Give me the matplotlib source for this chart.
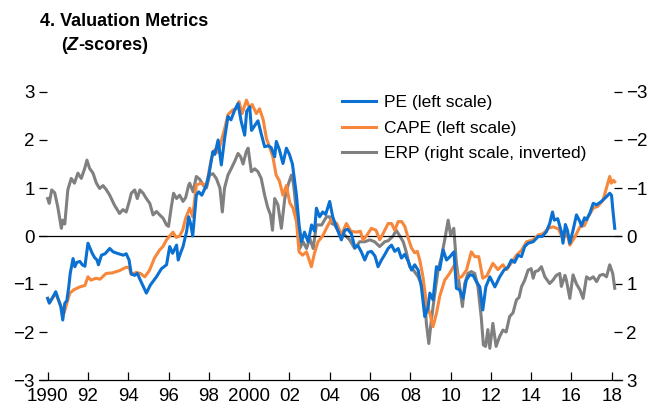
import matplotlib
matplotlib.use("Agg")
import matplotlib.pyplot as plt

plt.rcParams['font.family'] = ['Liberation Sans Narrow', 'Liberation Sans', 'DejaVu Sans']

# PE, z-score (left scale)
pe_t = [1990.00, 1990.08, 1990.25, 1990.40, 1990.55, 1990.65, 1990.75, 1990.85, 1990.95, 1991.05,
        1991.12, 1991.26, 1991.35, 1991.45, 1991.60, 1991.72, 1991.85, 1992.00, 1992.10, 1992.20,
        1992.33, 1992.45, 1992.52, 1992.67, 1992.85, 1993.08, 1993.25, 1993.45, 1993.60, 1993.75,
        1993.90, 1994.04, 1994.15, 1994.32, 1994.45, 1994.60, 1994.90, 1995.10, 1995.40, 1995.65,
        1995.90, 1996.06, 1996.20, 1996.40, 1996.48, 1996.60, 1996.72, 1996.90, 1997.00, 1997.10,
        1997.20, 1997.38, 1997.50, 1997.65, 1997.88, 1998.00, 1998.20, 1998.30, 1998.46, 1998.62,
        1998.78, 1998.95, 1999.10, 1999.28, 1999.45, 1999.60, 1999.78, 1999.88, 2000.03, 2000.12,
        2000.28, 2000.44, 2000.60, 2000.77, 2000.95, 2001.10, 2001.27, 2001.35, 2001.50, 2001.68,
        2001.85, 2002.00, 2002.15, 2002.35, 2002.48, 2002.60, 2002.75, 2002.93, 2003.10, 2003.25,
        2003.34, 2003.50, 2003.65, 2003.80, 2004.00, 2004.15, 2004.33, 2004.58, 2004.75, 2004.90,
        2005.08, 2005.25, 2005.40, 2005.57, 2005.74, 2005.90, 2006.07, 2006.25, 2006.40, 2006.57,
        2006.73, 2006.90, 2007.07, 2007.23, 2007.40, 2007.56, 2007.73, 2007.90, 2008.06, 2008.22,
        2008.39, 2008.55, 2008.72, 2008.88, 2008.97, 2009.13, 2009.30, 2009.46, 2009.63, 2009.80,
        2009.97, 2010.17, 2010.29, 2010.45, 2010.62, 2010.78, 2010.95, 2011.12, 2011.28, 2011.45,
        2011.60, 2011.75, 2011.95, 2012.20, 2012.44, 2012.65, 2012.85, 2013.02, 2013.18, 2013.35,
        2013.52, 2013.68, 2013.85, 2014.10, 2014.35, 2014.55, 2014.76, 2014.92, 2015.06, 2015.15,
        2015.32, 2015.50, 2015.58, 2015.70, 2015.80, 2015.92, 2016.08, 2016.25, 2016.42, 2016.50,
        2016.65, 2016.75, 2016.91, 2017.08, 2017.25, 2017.49, 2017.74, 2017.90, 2017.99, 2018.05,
        2018.15]
pe_v = [-1.30, -1.40, -1.28, -1.16, -1.35, -1.47, -1.75, -1.40, -1.35, -1.05,
        -0.78, -0.47, -0.64, -0.55, -0.53, -0.60, -0.63, -0.15, -0.25, -0.35,
        -0.45, -0.50, -0.60, -0.40, -0.37, -0.26, -0.33, -0.36, -0.38, -0.40,
        -0.37, -0.50, -0.79, -0.82, -0.78, -0.92, -1.19, -1.02, -0.85, -0.68,
        -0.60, -0.22, -0.36, -0.19, -0.50, -0.35, -0.22, 0.10, 0.40, 0.25,
        0.00, 0.85, 0.92, 0.85, 1.06, 1.27, 1.76, 1.70, 2.00, 1.48,
        2.02, 2.49, 2.42, 2.62, 2.76, 2.40, 2.10, 2.60, 2.69, 2.20,
        2.30, 2.40, 2.13, 1.86, 1.88, 1.84, 1.65, 1.97, 1.80, 1.51,
        1.83, 1.70, 1.50, 0.85, 0.23, -0.12, 0.08, -0.12, 0.23, 0.10,
        0.58, 0.40, 0.50, 0.45, 0.72, 0.40, 0.19, -0.08, 0.12, 0.14,
        0.04, -0.24, -0.20, -0.33, -0.50, -0.34, -0.32, -0.42, -0.64, -0.50,
        -0.39, -0.26, -0.19, -0.32, -0.26, -0.46, -0.38, -0.53, -0.71, -0.60,
        -0.71, -1.06, -1.68, -1.50, -1.19, -1.33, -0.64, -0.70, -0.29, -0.50,
        -0.43, -0.33, -1.09, -1.12, -1.30, -0.92, -0.81, -0.82, -0.95, -1.06,
        -1.54, -1.06, -0.85, -1.06, -0.85, -0.71, -0.65, -0.50, -0.55, -0.40,
        -0.43, -0.22, -0.15, -0.12, -0.01, -0.01, 0.09, 0.26, 0.50, 0.33,
        0.36, 0.09, -0.15, 0.24, 0.12, -0.15, 0.12, 0.44, 0.30, 0.21,
        0.38, 0.34, 0.47, 0.68, 0.65, 0.72, 0.82, 0.89, 0.85, 0.57,
        0.16]

# CAPE, z-score (left scale)
cape_t = [1990.00, 1990.10, 1990.25, 1990.40, 1990.55, 1990.70, 1990.82, 1990.95, 1991.10, 1991.30,
          1991.60, 1991.85, 1992.00, 1992.15, 1992.40, 1992.60, 1992.90, 1993.20, 1993.57, 1993.90,
          1994.05, 1994.15, 1994.40, 1994.60, 1994.82, 1995.05, 1995.30, 1995.56, 1995.72, 1995.90,
          1996.06, 1996.22, 1996.38, 1996.55, 1996.70, 1996.85, 1997.05, 1997.20, 1997.38, 1997.60,
          1997.88, 1998.13, 1998.30, 1998.46, 1998.79, 1998.95, 1999.20, 1999.37, 1999.50, 1999.65,
          1999.87, 2000.03, 2000.15, 2000.36, 2000.52, 2000.70, 2000.86, 2001.02, 2001.18, 2001.34,
          2001.50, 2001.68, 2001.85, 2002.02, 2002.18, 2002.35, 2002.48, 2002.65, 2002.85, 2003.09,
          2003.25, 2003.42, 2003.65, 2003.92, 2004.10, 2004.20, 2004.35, 2004.58, 2004.83, 2005.05,
          2005.33, 2005.52, 2005.65, 2005.82, 2006.07, 2006.30, 2006.48, 2006.65, 2006.90, 2007.07,
          2007.23, 2007.40, 2007.57, 2007.73, 2007.90, 2008.06, 2008.22, 2008.35, 2008.47, 2008.63,
          2008.80, 2008.97, 2009.13, 2009.30, 2009.46, 2009.71, 2009.95, 2010.20, 2010.37, 2010.55,
          2010.79, 2011.03, 2011.20, 2011.40, 2011.60, 2011.80, 2012.10, 2012.35, 2012.60, 2012.78,
          2013.02, 2013.27, 2013.52, 2013.77, 2014.10, 2014.35, 2014.60, 2014.84, 2015.09, 2015.35,
          2015.60, 2015.75, 2015.92, 2016.17, 2016.42, 2016.65, 2016.83, 2017.08, 2017.32, 2017.57,
          2017.74, 2017.90, 2017.98, 2018.08, 2018.15]
cape_v = [-1.30, -1.38, -1.28, -1.20, -1.35, -1.50, -1.60, -1.40, -1.19, -1.12,
          -1.06, -1.03, -0.85, -0.92, -0.88, -0.90, -0.78, -0.77, -0.72, -0.65,
          -0.66, -0.80, -0.76, -0.78, -0.85, -0.72, -0.46, -0.29, -0.22, -0.08,
          0.00, 0.08, -0.03, 0.00, 0.12, 0.37, 0.58, 0.40, 1.06, 1.10,
          1.06, 1.62, 1.80, 1.74, 2.24, 2.53, 2.63, 2.65, 2.80, 2.55,
          2.83, 2.66, 2.74, 2.55, 2.65, 2.42, 2.03, 1.85, 1.65, 1.27,
          1.15, 0.85, 1.05, 0.69, 0.58, 0.30, -0.33, -0.40, -0.33, -0.64,
          -0.35, -0.12, 0.00, 0.23, 0.36, 0.30, 0.26, 0.02, 0.26, 0.10,
          0.08, 0.10, -0.08, 0.00, 0.16, 0.12, -0.08, 0.05, 0.26, 0.26,
          0.12, 0.30, 0.30, 0.20, -0.05, -0.25, -0.35, -0.32, -0.50, -0.85,
          -1.40, -1.61, -1.89, -1.61, -1.26, -0.92, -0.78, -0.60, -0.88, -0.85,
          -0.71, -0.33, -0.43, -0.43, -0.88, -0.83, -0.57, -0.70, -0.60, -0.70,
          -0.56, -0.40, -0.30, -0.12, -0.08, 0.02, 0.05, 0.16, 0.19, 0.15,
          -0.08, 0.12, -0.19, -0.02, 0.19, 0.22, 0.40, 0.58, 0.62, 0.75,
          1.00, 1.24, 1.10, 1.16, 1.13]

# ERP, z-score (right scale, inverted)
erp_t = [1990.00, 1990.08, 1990.20, 1990.35, 1990.50, 1990.68, 1990.75, 1990.85, 1991.00, 1991.17,
         1991.33, 1991.50, 1991.67, 1991.84, 1991.95, 1992.08, 1992.25, 1992.42, 1992.58, 1992.75,
         1992.92, 1993.08, 1993.32, 1993.57, 1993.74, 1993.90, 1994.07, 1994.15, 1994.32, 1994.45,
         1994.58, 1994.74, 1994.90, 1995.07, 1995.23, 1995.40, 1995.56, 1995.73, 1995.90, 1996.00,
         1996.14, 1996.25, 1996.40, 1996.55, 1996.72, 1996.85, 1997.00, 1997.05, 1997.22, 1997.38,
         1997.55, 1997.72, 1997.88, 1998.04, 1998.20, 1998.37, 1998.55, 1998.67, 1998.78, 1998.95,
         1999.12, 1999.28, 1999.45, 1999.58, 1999.70, 1999.86, 1999.95, 2000.11, 2000.28, 2000.44,
         2000.60, 2000.77, 2000.92, 2001.06, 2001.16, 2001.27, 2001.43, 2001.60, 2001.77, 2001.93,
         2002.10, 2002.20, 2002.35, 2002.51, 2002.68, 2002.85, 2003.01, 2003.18, 2003.34, 2003.60,
         2003.84, 2004.00, 2004.10, 2004.25, 2004.50, 2004.75, 2004.99, 2005.24, 2005.49, 2005.74,
         2005.99, 2006.23, 2006.48, 2006.73, 2006.90, 2007.15, 2007.30, 2007.48, 2007.65, 2007.80,
         2007.97, 2008.14, 2008.39, 2008.55, 2008.72, 2008.80, 2008.92, 2009.05, 2009.22, 2009.38,
         2009.55, 2009.71, 2009.88, 2010.00, 2010.16, 2010.29, 2010.45, 2010.59, 2010.70, 2010.86,
         2011.03, 2011.20, 2011.36, 2011.52, 2011.63, 2011.74, 2011.85, 2011.95, 2012.10, 2012.26,
         2012.43, 2012.60, 2012.76, 2012.93, 2013.10, 2013.27, 2013.40, 2013.52, 2013.68, 2013.85,
         2014.00, 2014.10, 2014.20, 2014.35, 2014.51, 2014.68, 2014.92, 2015.08, 2015.25, 2015.42,
         2015.50, 2015.68, 2015.75, 2015.92, 2016.08, 2016.25, 2016.42, 2016.58, 2016.75, 2016.91,
         2017.08, 2017.25, 2017.41, 2017.58, 2017.74, 2017.90, 2018.05, 2018.15]
erp_v = [-0.78, -0.68, -0.96, -0.90, -0.61, -0.16, -0.33, -0.25, -0.96, -1.20,
         -1.10, -1.31, -1.20, -1.41, -1.58, -1.41, -1.31, -1.10, -0.99, -1.05,
         -0.96, -0.85, -0.64, -0.47, -0.55, -0.50, -0.75, -0.89, -0.96, -0.78,
         -0.96, -0.89, -0.78, -0.68, -0.44, -0.51, -0.44, -0.37, -0.23, -0.20,
         -0.61, -0.89, -0.78, -0.85, -0.72, -0.80, -1.06, -1.10, -0.92, -1.24,
         -1.18, -1.06, -1.00, -1.27, -1.30, -1.20, -1.00, -0.50, -1.00, -1.27,
         -1.41, -1.55, -1.72, -1.65, -1.50, -1.76, -1.83, -1.34, -1.40, -1.34,
         -1.20, -0.85, -0.60, -0.44, -0.12, -0.78, -0.65, -0.16, -0.78, -1.06,
         -1.27, -1.10, -0.50, 0.26, 0.12, 0.26, 0.05, 0.26, -0.23, -0.23,
         -0.40, -0.40, -0.26, -0.23, -0.05, -0.02, 0.08, 0.26, 0.12, 0.12,
         0.08, 0.12, 0.22, 0.12, 0.10, 0.00, -0.12, 0.00, 0.12, 0.33,
         0.64, 0.70, 0.85, 1.00, 1.33, 1.82, 2.24, 1.74, 1.19, 0.71,
         0.43, 0.08, -0.33, -0.02, -0.16, 0.57, 1.06, 1.47, 1.00, 0.78,
         0.74, 0.78, 1.06, 1.68, 2.27, 2.30, 1.95, 2.34, 1.82, 2.30,
         2.10, 1.96, 2.00, 1.68, 1.60, 1.33, 1.28, 1.06, 0.92, 0.71,
         0.68, 0.88, 0.74, 0.72, 0.64, 0.85, 0.99, 0.92, 0.82, 0.78,
         1.05, 0.82, 0.92, 1.30, 0.81, 1.00, 1.12, 1.30, 0.85, 0.90,
         0.85, 0.95, 0.82, 0.80, 0.85, 0.60, 0.78, 1.09]

left_ticks = [-3, -2, -1, 0, 1, 2, 3]
year_ticks = list(range(1990, 2019, 2))
year_labels = ['1990', '92', '94', '96', '98', '2000', '02', '04', '06', '08',
               '10', '12', '14', '16', '18']

c_pe = '#0a70d2'
c_cape = '#f7873b'
c_erp = '#808080'

W, H = 665, 411
fig = plt.figure(figsize=(W / 100, H / 100), dpi=100)
ax = fig.add_axes([39 / W, 1 - 380 / H, (622 - 39) / W, (380 - 92) / H])
ax2 = ax.twinx()

ax2.plot(erp_t, erp_v, color=c_erp, lw=2.2, label='ERP (right scale, inverted)')
ax.axhline(0, color='black', lw=0.9, zorder=1)
ax.plot(cape_t, cape_v, color=c_cape, lw=2.2, label='CAPE (left scale)', zorder=3)
ax.plot(pe_t, pe_v, color=c_pe, lw=2.2, label='PE (left scale)', zorder=4)

# grey line goes behind the other two
ax.set_zorder(ax2.get_zorder() + 1)
ax.patch.set_visible(False)

ax.set_xlim(1989.57, 2018.51)
ax.set_ylim(-3, 3)
ax2.set_ylim(3, -3)

for a in (ax, ax2):
    for s in ('top', 'left', 'right', 'bottom'):
        a.spines[s].set_visible(False)
ax.spines['bottom'].set_visible(True)
ax.spines['bottom'].set_linewidth(0.9)

minus = lambda v: str(v).replace('-', '\u2212')
ax.set_xticks(year_ticks)
ax.set_xticklabels(year_labels)
ax.set_yticks(left_ticks)
ax.set_yticklabels([minus(v) for v in left_ticks])
ax2.set_yticks(left_ticks)
ax2.set_yticklabels([minus(v) for v in left_ticks])

ax.tick_params(axis='x', direction='in', length=6, width=0.9, labelsize=13.5, pad=6)
ax.tick_params(axis='y', direction='in', length=6, width=0.9, labelsize=13.5, pad=3)
ax2.tick_params(axis='y', direction='in', length=6, width=0.9, labelsize=13.5, pad=3)

h, l = ax.get_legend_handles_labels()
h2, l2 = ax2.get_legend_handles_labels()
ax.legend([h[1], h[0], h2[0]], [l[1], l[0], l2[0]], loc='upper left',
          bbox_to_anchor=((342 - 39) / (622 - 39), 0.99),
          frameon=False, fontsize=12.5, handlelength=1.95, handletextpad=0.45,
          labelspacing=0.6, borderaxespad=0, borderpad=0)

fs = 13
t1 = fig.text(40 / W, 1 - 26 / H, '4. Valuation Metrics', fontsize=fs, fontweight='bold',
              va='baseline', ha='left')
t2 = fig.text(61 / W, 1 - 50 / H, '(', fontsize=fs, fontweight='bold', va='baseline', ha='left')
a1 = plt.annotate('Z', xy=(1, 0), xycoords=t2, va='bottom', ha='left', fontsize=fs,
                  fontweight='bold', fontstyle='italic', annotation_clip=False)
a2 = plt.annotate('-scores)', xy=(1, 0), xycoords=a1, va='bottom', ha='left', fontsize=fs,
                  fontweight='bold', annotation_clip=False)

fig.savefig('out.png', dpi=100)
